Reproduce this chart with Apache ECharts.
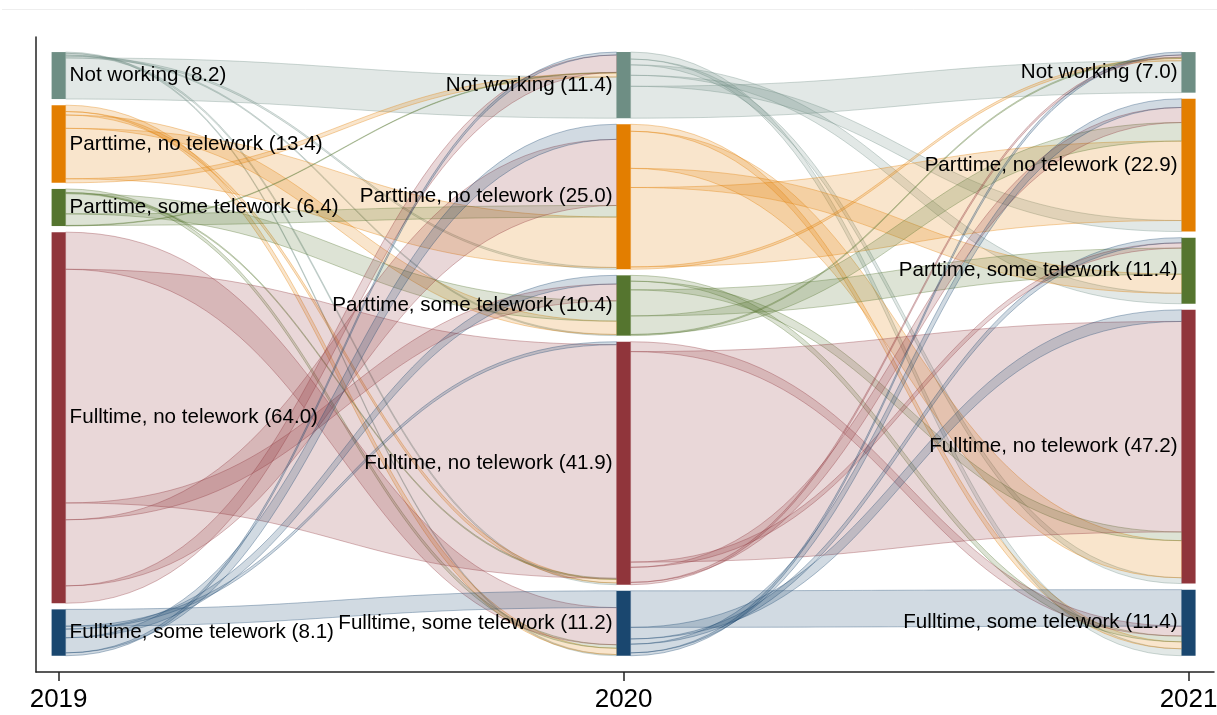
<!DOCTYPE html>
<html>
<head>
<meta charset="utf-8">
<script src="https://cdn.jsdelivr.net/npm/echarts@6/dist/echarts.min.js"></script>
<style>
html,body{margin:0;padding:0;background:#fff;}
#main{width:1217px;height:715px;}
</style>
</head>
<body>
<div id="main"></div>
<script>
// ---------------- data ----------------
const years = [2019, 2020, 2021];
const categories = ['Not working', 'Parttime, no telework', 'Parttime, some telework', 'Fulltime, no telework', 'Fulltime, some telework'];
const colors = ['#6e8e84', '#e37e00', '#55752f', '#90353b', '#1a476f'];
const totals2019 = [8.2, 13.4, 6.4, 64.0, 8.1];
const totals2020 = [11.4, 25.0, 10.4, 41.9, 11.2];
const totals2021 = [7.0, 22.9, 11.4, 47.2, 11.4];
// rows = origin category, columns = destination category (percent)
const flows2019to2020 = [
  [7.1, 0.3, 0.2, 0.3, 0.2],
  [0.7, 8.7, 2.3, 0.6, 1.1],
  [0.1, 2.0, 3.5, 0.2, 0.6],
  [3.0, 11.4, 2.9, 40.3, 6.4],
  [0.5, 2.6, 1.5, 0.5, 2.9]
];
const flows2020to2021 = [
  [5.5, 1.9, 1.8, 1.0, 1.2],
  [0.4, 13.7, 3.3, 6.4, 1.2],
  [0.2, 3.2, 4.5, 1.5, 1.0],
  [0.4, 2.6, 0.9, 36.3, 1.7],
  [0.5, 1.5, 0.9, 2.0, 6.3]
];
const totals = [totals2019, totals2020, totals2021];
const stages = [flows2019to2020, flows2020to2021];

// ---------------- layout helpers (derived from data) ----------------
const GAP = 1.05;        // gap between nodes, in axis units
const NODE_W = 14;       // node bar width in px
const FONT = "'Liberation Sans', Arial, sans-serif";

function rowSums(m) { return m.map(r => r.reduce((a, b) => a + b, 0)); }
function colSums(m) { return m[0].map((_, j) => m.reduce((a, r) => a + r[j], 0)); }
function stack(sizes) {
  let y = 0;
  return sizes.map(s => { const t = y; y += s + GAP; return [t, t + s]; });
}
const colSizes = [rowSums(flows2019to2020), colSums(flows2019to2020), colSums(flows2020to2021)];
const colLayouts = colSizes.map(stack);

// node data: [year, top, bottom, category, total, column]
const nodeData = [];
colLayouts.forEach((lay, c) => {
  lay.forEach((l, k) => nodeData.push([years[c], l[0], l[1], k, totals[c][k], c]));
});

// link data: [x0, x1, srcTop, srcBot, tgtTop, tgtBot, sourceCategory]
const linkData = [];
stages.forEach((m, s) => {
  const srcLay = colLayouts[s], tgtLay = colLayouts[s + 1];
  const srcOff = srcLay.map(l => l[0]);
  const tgtOff = tgtLay.map(l => l[0]);
  const sTop = m.map(r => r.map(() => 0));
  const tTop = m.map(r => r.map(() => 0));
  for (let i = 0; i < 5; i++) {
    for (let j = 4; j >= 0; j--) { sTop[i][j] = srcOff[i]; srcOff[i] += m[i][j]; }
  }
  for (let j = 0; j < 5; j++) {
    for (let i = 4; i >= 0; i--) { tTop[i][j] = tgtOff[j]; tgtOff[j] += m[i][j]; }
  }
  for (let i = 0; i < 5; i++) {
    for (let j = 0; j < 5; j++) {
      const v = m[i][j];
      if (v <= 0) continue;
      linkData.push([years[s], years[s + 1], sTop[i][j], sTop[i][j] + v, tTop[i][j], tTop[i][j] + v, i]);
    }
  }
});

function rgba(hex, a) {
  const n = parseInt(hex.slice(1), 16);
  return 'rgba(' + ((n >> 16) & 255) + ',' + ((n >> 8) & 255) + ',' + (n & 255) + ',' + a + ')';
}

function bez(p0, p1, p2, p3, t) {
  const u = 1 - t;
  return u * u * u * p0 + 3 * u * u * t * p1 + 3 * u * t * t * p2 + t * t * t * p3;
}

function renderLink(params, api) {
  const x0 = api.value(0), x1 = api.value(1);
  const a = api.coord([x0, api.value(2)]);
  const b = api.coord([x0, api.value(3)]);
  const c = api.coord([x1, api.value(4)]);
  const d = api.coord([x1, api.value(5)]);
  const cat = api.value(6);
  const ax = a[0] + NODE_W / 2, bx = c[0] - NODE_W / 2;
  const mx = (ax + bx) / 2;
  const N = 48;
  const pts = [];
  for (let k = 0; k <= N; k++) {
    const t = k / N;
    pts.push([bez(ax, mx, mx, bx, t), bez(a[1], a[1], c[1], c[1], t)]);
  }
  for (let k = N; k >= 0; k--) {
    const t = k / N;
    pts.push([bez(ax, mx, mx, bx, t), bez(b[1], b[1], d[1], d[1], t)]);
  }
  return {
    type: 'polygon',
    shape: { points: pts },
    style: { fill: rgba(colors[cat], 0.2), stroke: rgba(colors[cat], 0.34), lineWidth: 1 }
  };
}

function renderNode(params, api) {
  const yr = api.value(0);
  const p0 = api.coord([yr, api.value(1)]);
  const p1 = api.coord([yr, api.value(2)]);
  const cat = api.value(3);
  const tot = api.value(4);
  const col = api.value(5);
  const cy = (p0[1] + p1[1]) / 2;
  const label = categories[cat] + ' (' + Number(tot).toFixed(1) + ')';
  const leftSide = col > 0;
  return {
    type: 'group',
    children: [
      {
        type: 'rect',
        shape: { x: p0[0] - NODE_W / 2, y: p0[1], width: NODE_W, height: p1[1] - p0[1] },
        style: { fill: colors[cat] }
      },
      {
        type: 'text',
        x: leftSide ? p0[0] - NODE_W / 2 - 4 : p0[0] + NODE_W / 2 + 4,
        y: cy,
        style: {
          text: label,
          align: leftSide ? 'right' : 'left',
          verticalAlign: 'middle',
          fill: '#000',
          fontSize: 20.6,
          fontFamily: FONT
        }
      }
    ]
  };
}

const chart = echarts.init(document.getElementById('main'), null, { renderer: 'canvas' });
chart.setOption({
  animation: false,
  backgroundColor: '#fff',
  graphic: [{
    type: 'line',
    shape: { x1: 2, y1: 9.5, x2: 1217, y2: 9.5 },
    style: { stroke: '#eeeeee', lineWidth: 1 },
    silent: true
  }],
  grid: { left: 36, right: 3, top: 37, bottom: 43, containLabel: false, outerBoundsMode: 'none' },
  xAxis: {
    type: 'value',
    min: 2018.96,
    max: 2021.045,
    axisLine: { show: true, onZero: false, lineStyle: { color: '#222', width: 1.5 } },
    axisTick: { show: true, length: 9, customValues: years, lineStyle: { color: '#222', width: 1.5 } },
    axisLabel: {
      customValues: years,
      formatter: v => String(v),
      fontSize: 26,
      color: '#000',
      fontFamily: FONT,
      margin: 15
    },
    splitLine: { show: false }
  },
  yAxis: {
    type: 'value',
    inverse: true,
    min: -2.6,
    max: 106.9,
    axisLine: { show: true, onZero: false, lineStyle: { color: '#222', width: 1.5 } },
    axisTick: { show: false },
    axisLabel: { show: false },
    splitLine: { show: false }
  },
  series: [
    {
      type: 'custom',
      name: 'flows',
      renderItem: renderLink,
      data: linkData,
      encode: { x: [0, 1], y: [2, 3, 4, 5] },
      clip: false,
      silent: true,
      z: 2
    },
    {
      type: 'custom',
      name: 'states',
      renderItem: renderNode,
      data: nodeData,
      encode: { x: 0, y: [1, 2] },
      clip: false,
      silent: true,
      z: 3
    }
  ]
});
</script>
</body>
</html>
